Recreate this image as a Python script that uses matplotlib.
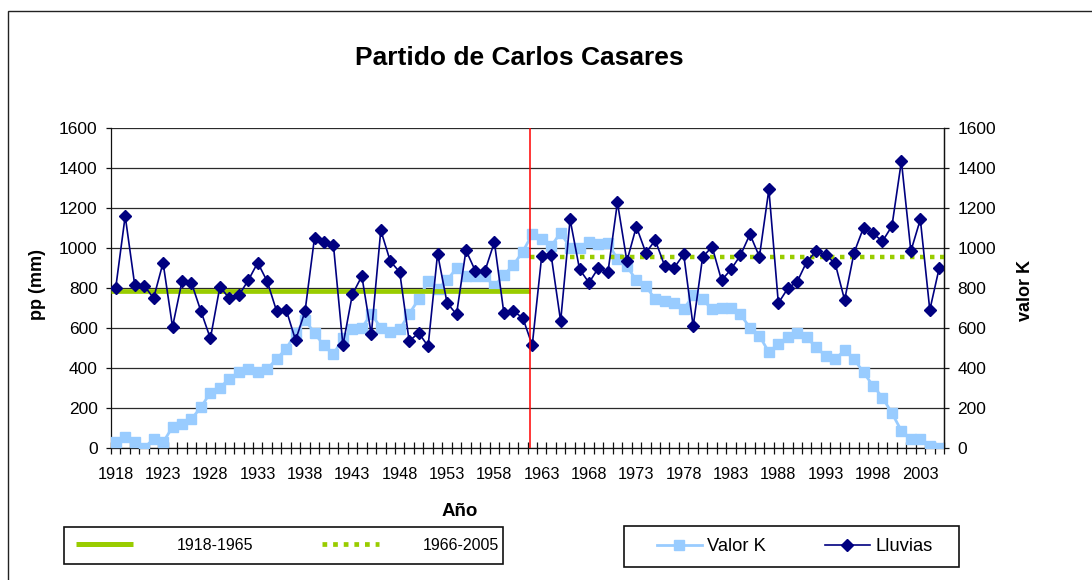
import matplotlib
matplotlib.use("Agg")
import matplotlib.pyplot as plt
from matplotlib.lines import Line2D
from matplotlib.patches import Rectangle
import numpy as np

plt.rcParams['font.family'] = ['Liberation Sans', 'DejaVu Sans']

years = list(range(1918, 2006))
lluvias = [800, 1158, 816, 811, 748, 925, 605, 832, 824, 683,
           547, 804, 748, 762, 837, 925, 832, 683, 691, 538,
           683, 1050, 1030, 1012, 513, 767, 858, 567, 1087, 933,
           878, 533, 575, 508, 970, 725, 667, 987, 883, 883,
           1028, 675, 683, 650, 513, 958, 962, 633, 1141, 892,
           825, 900, 878, 1226, 933, 1105, 975, 1037, 908, 900,
           967, 608, 953, 1005, 837, 892, 962, 1067, 955, 1291,
           723, 797, 831, 930, 983, 963, 922, 739, 975, 1100,
           1071, 1032, 1108, 1432, 983, 1141, 689, 900]
valor_k = [28, 55, 28, 0, 45, 28, 105, 120, 145, 203,
           277, 302, 344, 379, 394, 379, 394, 445, 495, 573,
           640, 573, 512, 467, 550, 592, 600, 670, 600, 580,
           592, 670, 742, 833, 792, 838, 897, 858, 858, 858,
           808, 863, 913, 980, 1067, 1042, 1008, 1075, 1000, 1000,
           1028, 1017, 1025, 942, 908, 837, 808, 742, 733, 725,
           692, 762, 742, 692, 700, 700, 667, 600, 560, 478,
           520, 553, 573, 553, 502, 460, 444, 487, 444, 377,
           311, 252, 174, 86, 45, 45, 12, 0]

mean_1 = 783      # 1918-1965
mean_2 = 955      # 1966-2005
break_year = 1961.75
period_labels = ['1918-1965', '1966-2005']
series_labels = ['Valor K', 'Lluvias']

W, H = 1092, 580
fig = plt.figure(figsize=(W / 100, H / 100), dpi=100)
ax = fig.add_axes([111 / W, 1 - 448 / H, (944 - 111) / W, (448 - 127.5) / H])

xmin, xmax = years[0] - 0.5, years[-1] + 0.5
ax.set_xlim(xmin, xmax)
ax.set_ylim(0, 1600)

ax.set_yticks(np.arange(0, 1601, 200))
ax.yaxis.grid(True, color='#2a2a2a', linewidth=0.9)
ax.set_axisbelow(True)

kcol = '#99CCFF'
lcol = '#000080'
gcol = '#99CC00'
dots = (0, (1.0, 1.25))

ax.plot(years, valor_k, color=kcol, lw=2.0, marker='s', ms=6.6, mec=kcol, mfc=kcol, zorder=3)
ax.plot([xmin, break_year], [mean_1, mean_1], color=gcol, lw=3.4, solid_capstyle='butt', zorder=4)
ax.plot([break_year, xmax], [mean_2, mean_2], color=gcol, lw=3.2, linestyle=dots,
        dash_capstyle='butt', zorder=4)
ax.plot(years, lluvias, color=lcol, lw=1.2, marker='D', ms=6.0, mec=lcol, mfc=lcol, zorder=5)
ax.axvline(break_year, color='#FF0000', lw=1.1, zorder=6)

ax.set_xticks(years[::5])
ax.set_xticklabels([str(y) for y in years[::5]], fontsize=11.8)
ax.set_xticks(np.arange(xmin, xmax + 0.01, 1.0), minor=True)
ax.tick_params(axis='x', which='major', length=0, pad=13.5)
ax.tick_params(axis='x', which='minor', direction='inout', length=8, width=0.9, color='#111111')
ax.tick_params(axis='y', which='major', direction='out', length=3.6, width=0.9, labelsize=12.5, pad=6,
               color='#111111')

ax.spines['top'].set_visible(False)
for s in ['left', 'bottom', 'right']:
    ax.spines[s].set_color('#111111')
    ax.spines[s].set_linewidth(0.9)

ax2 = ax.twinx()
ax2.set_ylim(0, 1600)
ax2.set_yticks(np.arange(0, 1601, 200))
ax2.tick_params(axis='y', direction='out', length=3.6, width=0.9, labelsize=12.5, pad=6, color='#111111')
for s in ['top', 'left', 'bottom']:
    ax2.spines[s].set_visible(False)
ax2.spines['right'].set_color('#111111')
ax2.spines['right'].set_linewidth(0.9)

fig.text(519 / W, 1 - 58 / H, 'Partido de Carlos Casares', fontsize=19, fontweight='bold',
         ha='center', va='center')
fig.text(460 / W, 1 - 511 / H, 'Año', fontsize=13.5, fontweight='bold', ha='center', va='center')
fig.text(37 / W, 1 - 285 / H, 'pp (mm)', fontsize=13, fontweight='bold', rotation=90,
         ha='center', va='center')
fig.text(1026 / W, 1 - 291 / H, 'valor K', fontsize=13, fontweight='bold', rotation=90,
         ha='center', va='center')

fig.patches.append(Rectangle((8 / W, -0.2), 1.2, 1.2 - 10.5 / H, transform=fig.transFigure,
                             fill=False, edgecolor='#222222', linewidth=1.0, figure=fig))

h1 = [Line2D([], [], color=gcol, lw=3.6, solid_capstyle='butt'),
      Line2D([], [], color=gcol, lw=3.4, linestyle=dots, dash_capstyle='butt')]
fig.legend(h1, period_labels, loc='center left', bbox_to_anchor=(76 / W, 1 - 545 / H),
           ncol=2, frameon=False, fontsize=11.5, handlelength=3.55, handletextpad=2.75,
           columnspacing=4.3, borderpad=0, borderaxespad=0)
fig.patches.append(Rectangle((64 / W, 1 - 564 / H), (503 - 64) / W, (564 - 527) / H,
                             transform=fig.transFigure, fill=False, edgecolor='#111111',
                             linewidth=1.2, figure=fig))

h2 = [Line2D([], [], color=kcol, lw=2.0, marker='s', ms=6.6, mec=kcol, mfc=kcol),
      Line2D([], [], color=lcol, lw=1.2, marker='D', ms=6.0, mec=lcol, mfc=lcol)]
fig.legend(h2, series_labels, loc='center left', bbox_to_anchor=(657 / W, 1 - 546.5 / H),
           ncol=2, frameon=False, fontsize=13.2, handlelength=2.45, handletextpad=0.3,
           columnspacing=3.2, borderpad=0, borderaxespad=0, numpoints=1)
fig.patches.append(Rectangle((624 / W, 1 - 567 / H), (959 - 624) / W, (567 - 526) / H,
                             transform=fig.transFigure, fill=False, edgecolor='#111111',
                             linewidth=1.2, figure=fig))

fig.savefig('out.png', dpi=100)
